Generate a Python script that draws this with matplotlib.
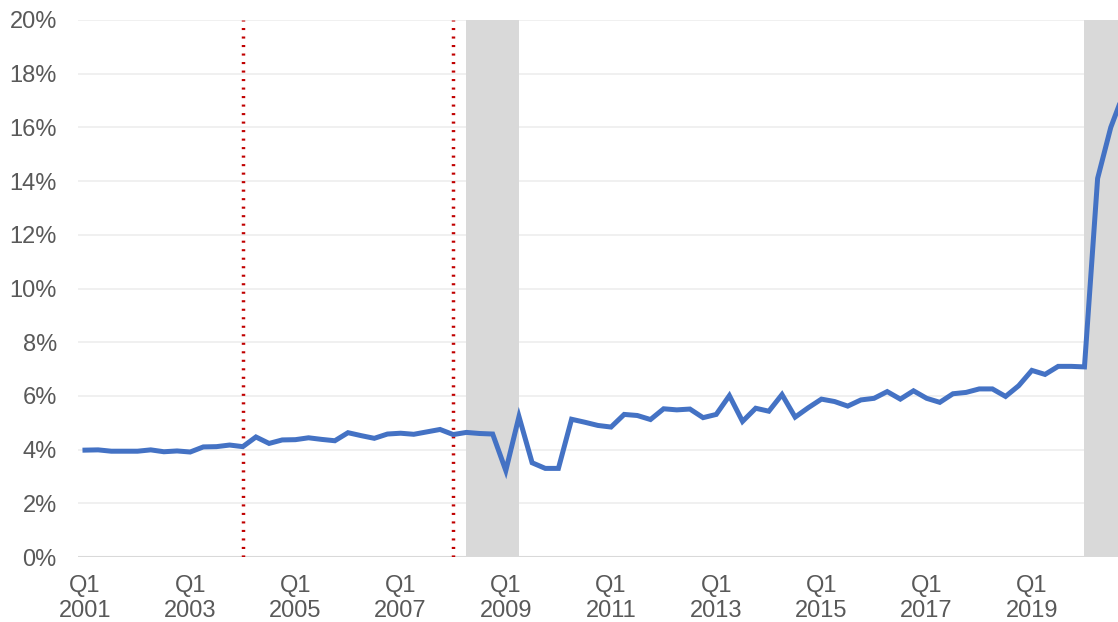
import matplotlib.pyplot as plt

# quarterly series, Q1 2001 .. Q4 2020 (percent)
values = [
    3.98, 3.99, 3.94, 3.94, 3.94, 3.99, 3.92, 3.95,   # 2001-2002
    3.91, 4.10, 4.11, 4.17, 4.11, 4.47, 4.23, 4.36,   # 2003-2004
    4.37, 4.44, 4.38, 4.33, 4.63, 4.52, 4.42, 4.58,   # 2005-2006
    4.61, 4.57, 4.66, 4.75, 4.56, 4.64, 4.60, 4.58,   # 2007-2008
    3.22, 5.23, 3.51, 3.30, 3.30, 5.13, 5.02, 4.90,   # 2009-2010
    4.84, 5.31, 5.27, 5.12, 5.52, 5.48, 5.51, 5.19,   # 2011-2012
    5.31, 6.01, 5.05, 5.54, 5.43, 6.05, 5.21, 5.56,   # 2013-2014
    5.88, 5.79, 5.62, 5.85, 5.91, 6.16, 5.88, 6.19,   # 2015-2016
    5.91, 5.76, 6.08, 6.13, 6.26, 6.26, 5.98, 6.38,   # 2017-2018
    6.95, 6.80, 7.10, 7.10, 7.08, 14.1, 16.0, 17.3,   # 2019-2020
]
first_year = 2001
recessions = [(29, 33), (76, 80)]   # quarter index ranges shaded grey
markers = [12, 28]                  # Q1 2004, Q1 2008

x = list(range(len(values)))
tick_pos = list(range(0, 80, 8))
tick_labels = [f"Q1\n{first_year + p // 4}" for p in tick_pos]

plt.rcParams['font.family'] = ['Liberation Sans', 'DejaVu Sans']

fig = plt.figure(figsize=(11.18, 6.22), dpi=100)
ax = fig.add_axes([78.4 / 1118, 65 / 622, 1 - 78.4 / 1118, 537 / 622])

for a, b in recessions:
    ax.axvspan(a, b, color='#D9D9D9', lw=0, zorder=1)
for m in markers:
    ax.axvline(m, color='#C00000', lw=2.5, linestyle=(0, (0.6, 1.85)), zorder=2)

for yv in range(2, 21, 2):
    ax.axhline(yv, color='#EFEFEF', lw=1.3, zorder=0)
ax.axhline(0, color='#D9D9D9', lw=1.5, zorder=0)

ax.plot(x, values, color='#4472C4', lw=3.6, solid_joinstyle='miter', zorder=3)

ax.set_xlim(-0.5, 78.55)
ax.set_ylim(0, 20)
ax.set_yticks(range(0, 21, 2))
ax.set_yticklabels([f"{v}%" for v in range(0, 21, 2)])
ax.set_xticks(tick_pos)
ax.set_xticklabels(tick_labels, linespacing=1.15)
ax.tick_params(length=0, labelsize=17, labelcolor='#595959')
ax.tick_params(axis='y', pad=15.5)
ax.tick_params(axis='x', pad=13)
for s in ax.spines.values():
    s.set_visible(False)

fig.savefig('out.png', dpi=100)
